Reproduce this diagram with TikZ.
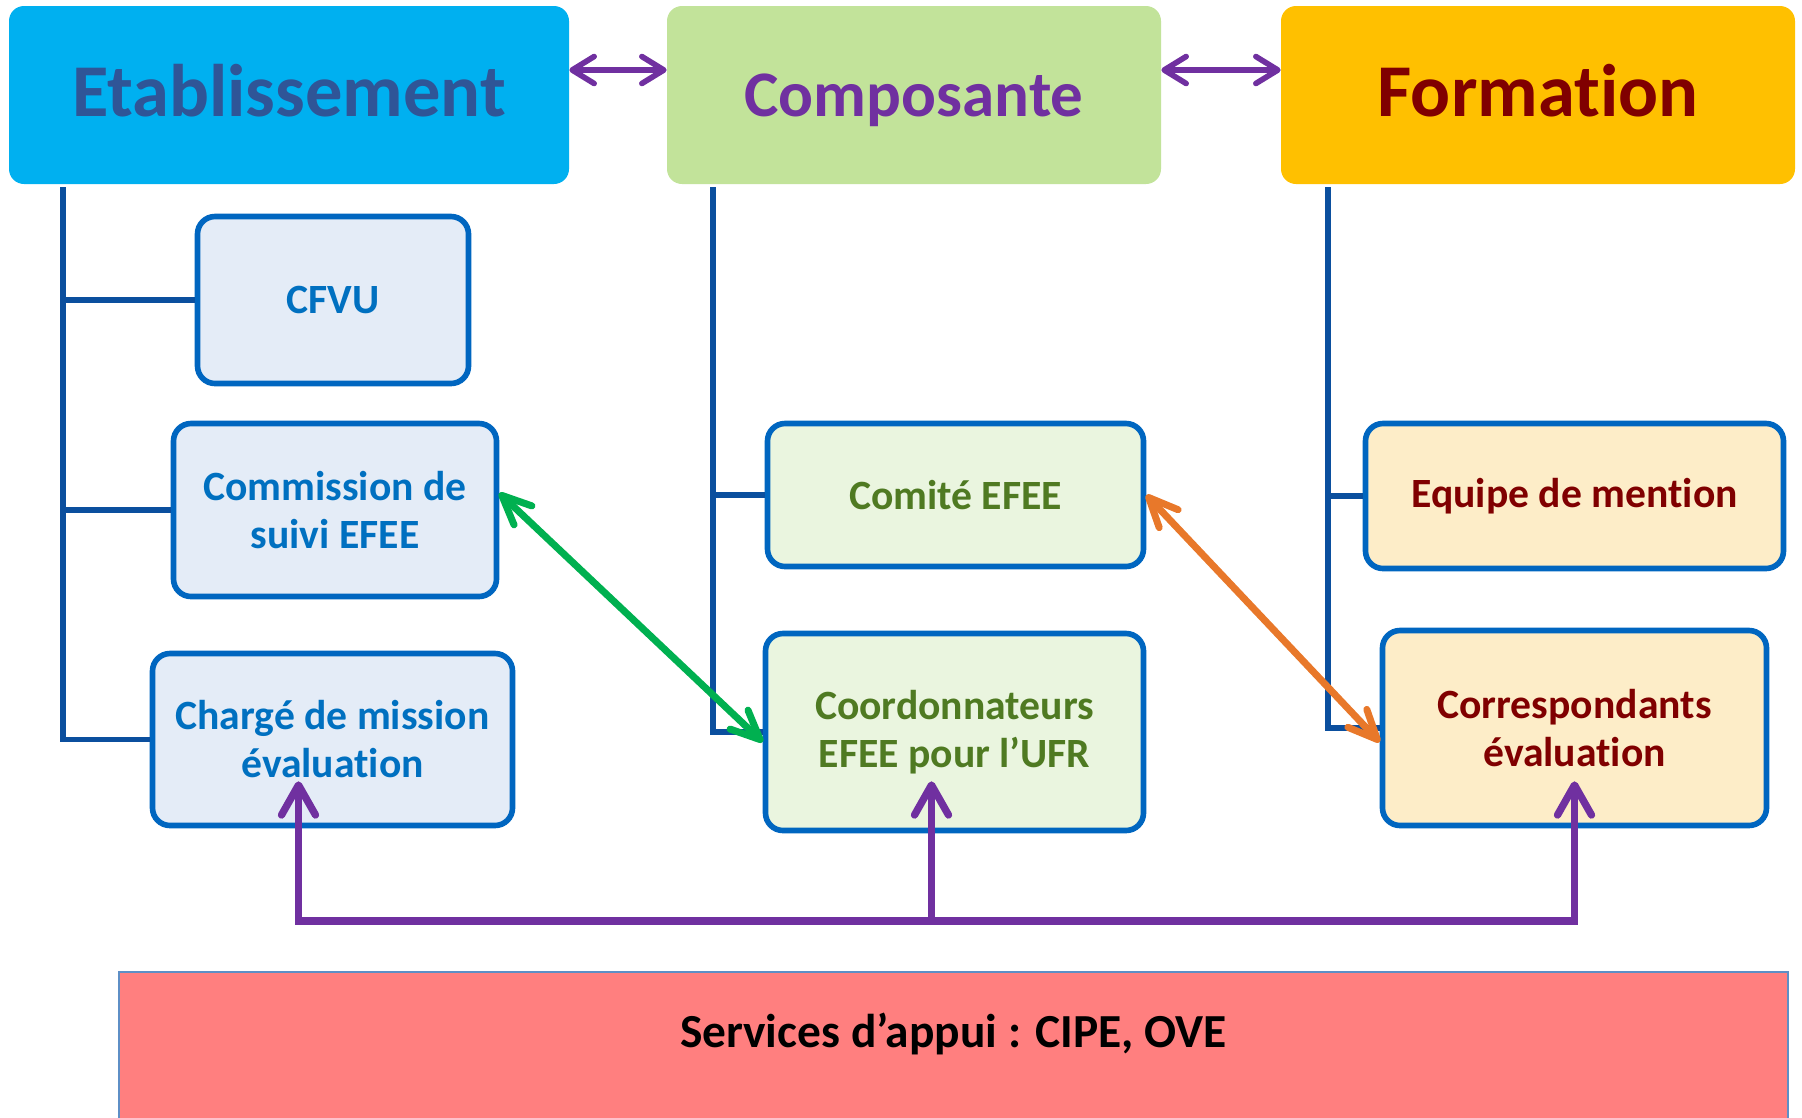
\documentclass[tikz,border=0pt]{standalone}
\usepackage{fontspec}
\setmainfont{Carlito}[Ligatures=NoCommon]
\usetikzlibrary{arrows.meta}

\definecolor{etabfill}{HTML}{00B0F0}
\definecolor{etabtext}{HTML}{2F5597}
\definecolor{compfill}{HTML}{C2E39A}
\definecolor{comptext}{HTML}{7030A0}
\definecolor{formfill}{HTML}{FFC000}
\definecolor{formtext}{HTML}{800000}
\definecolor{blueback}{HTML}{E4ECF7}
\definecolor{bluetext}{HTML}{0070C0}
\definecolor{greenback}{HTML}{EAF5DF}
\definecolor{greentext}{HTML}{4F7A22}
\definecolor{creamback}{HTML}{FDEDC8}
\definecolor{creamtext}{HTML}{800000}
\definecolor{boxline}{HTML}{0066C0}
\definecolor{stemblue}{HTML}{0B4F9E}
\definecolor{linkpurple}{HTML}{7030A0}
\definecolor{linkgreen}{HTML}{00B050}
\definecolor{linkorange}{HTML}{E8782A}
\definecolor{servfill}{HTML}{FF7F7F}
\definecolor{servline}{HTML}{5E8FC6}

\begin{document}
\begin{tikzpicture}[x=0.02cm, y=-0.02cm,
  headbox/.style={rounded corners=0.3cm, inner sep=0pt, text height=30pt, text depth=6pt,
    font=\bfseries\fontsize{42.4}{50}\selectfont},
  subbox/.style={draw=boxline, line width=3.2pt, rounded corners=0.35cm, inner sep=0pt,
    align=center, font=\bfseries\fontsize{23.7}{27.3}\selectfont},
  bluebox/.style={subbox, fill=blueback, text=bluetext},
  greenbox/.style={subbox, fill=greenback, text=greentext},
  creambox/.style={subbox, fill=creamback, text=creamtext},
  stem/.style={draw=stemblue, line width=3.2pt},
  toparrow/.style={draw=linkpurple, line width=3.2pt, <->,
    >={Straight Barb[round, length=0.44cm, width=0.54cm]}},
  crossarrow/.style={line width=4pt, <->,
    >={Straight Barb[round, length=0.58cm, width=0.52cm]}},
  busarrow/.style={draw=linkpurple, line width=4.2pt,
    >={Straight Barb[round, length=0.6cm, width=0.68cm]}},
]

\def\pix{0.02cm}

\useasboundingbox (0,0) rectangle (1802,1117);

% top level
\node[headbox, fill=etabfill, text=etabtext, minimum width=560*\pix, minimum height=178*\pix] (etab) at (289,95) {Etablissement};
\node[headbox, fill=compfill, text=comptext, minimum width=494*\pix, minimum height=178*\pix,
  font=\bfseries\fontsize{37}{44}\selectfont] (comp) at (914,95) {Composante};
\node[headbox, fill=formfill, text=formtext, minimum width=514*\pix, minimum height=178*\pix] (form) at (1538,95) {Formation};

% etablissement
\node[bluebox, minimum width=271*\pix, minimum height=167*\pix] (cfvu) at (333,300) {CFVU};
\node[bluebox, minimum width=323*\pix, minimum height=173*\pix] (comm) at (335,510) {Commission de\\suivi EFEE};
\node[bluebox, minimum width=360*\pix, minimum height=172*\pix] (charge) at (332.5,739.5) {Chargé de mission\\évaluation};

% composante
\node[greenbox, minimum width=376*\pix, minimum height=143*\pix] (comite) at (955.5,495) {Comité EFEE};
\node[greenbox, minimum width=378*\pix, minimum height=197*\pix] (coord) at (954.5,732) {Coordonnateurs\\EFEE pour l’UFR};

% formation
\node[creambox, minimum width=418*\pix, minimum height=145*\pix] (equipe) at (1574.5,496) {Equipe de mention};
\node[creambox, minimum width=384*\pix, minimum height=195*\pix] (corresp) at (1574.5,728) {Correspondants\\évaluation};

% support services
\node[fill=servfill, draw=servline, line width=1pt, minimum width=1669*\pix, minimum height=300*\pix, anchor=north] (services) at (953.5,971) {};
\node[font=\bfseries\fontsize{27}{32}\selectfont, text=black] (servlabel) at ([yshift=-1.26cm]services.north) {Services d’appui : CIPE, OVE};

% stems
\coordinate (etabstem) at (63,187);
\coordinate (compstem) at (713,187);
\coordinate (formstem) at (1328,187);

\draw[stem] (etabstem) |- (charge.west);
\draw[stem] (etabstem |- cfvu.west) -- (cfvu.west);
\draw[stem] (etabstem |- comm.west) -- (comm.west);

\draw[stem] (compstem) |- (coord.west);
\draw[stem] (compstem |- comite.west) -- (comite.west);

\draw[stem] (formstem) |- (corresp.west);
\draw[stem] (formstem |- equipe.west) -- (equipe.west);

% links between levels
\draw[toparrow] ([yshift=0.5cm]etab.east) -- ([yshift=0.5cm]comp.west);
\draw[toparrow] ([yshift=0.5cm]comp.east) -- ([yshift=0.5cm]form.west);

\draw[crossarrow, draw=linkgreen] ([yshift=0.34cm]comm.east) -- ([yshift=-0.2cm]coord.west);
\draw[crossarrow, draw=linkorange] (comite.east) -- ([yshift=-0.28cm]corresp.west);

% bus from services
\coordinate (bus) at (0,921);
\coordinate (chargetip) at ([shift={(-34,-47)}]charge.south);
\coordinate (coordtip) at ([shift={(-23,-52)}]coord.south);
\coordinate (corresptip) at ([shift={(0,-47)}]corresp.south);

\draw[busarrow, <->] (chargetip) -- (chargetip |- bus) -| (corresptip);
\draw[busarrow, ->] (coordtip |- bus) -- (coordtip);

\end{tikzpicture}
\end{document}
